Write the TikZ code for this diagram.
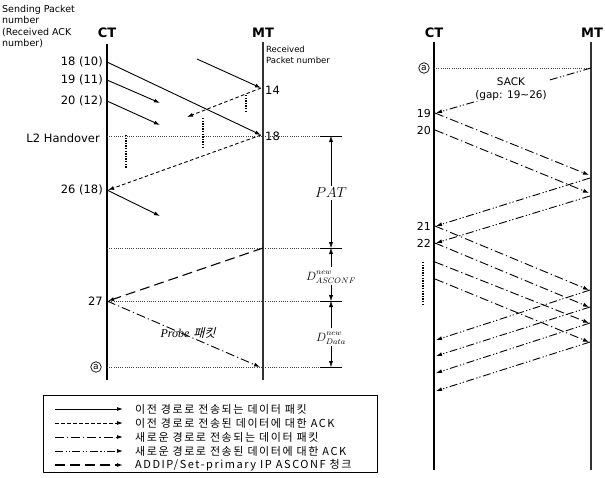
\documentclass[tikz,border=0pt]{standalone}
\usepackage{fontspec}
\setmainfont{DejaVu Sans}
\newfontfamily\korfont[LetterSpace=14]{Noto Sans CJK KR}
\newfontfamily\korslant[FakeSlant=0.25]{Noto Sans CJK KR}
\newfontfamily\probefont{Liberation Serif}
\usetikzlibrary{arrows.meta,calc,positioning}
\tikzset{
  msg/.style={line width=0.9pt,->},
  oldpkt/.style={msg},
  oldack/.style={msg,dash pattern=on 3.5pt off 2.5pt},
  newpkt/.style={msg,dash pattern=on 9pt off 3pt on 1.2pt off 3pt},
  newack/.style={msg,dash pattern=on 8pt off 2.5pt on 1.2pt off 2pt on 1.2pt off 2.5pt},
  asconf/.style={msg,line width=1.1pt,dash pattern=on 10pt off 5pt},
  guide/.style={line width=0.5pt,black!75,dash pattern=on 1pt off 1.2pt},
  halt/.style={line width=2pt,dash pattern=on 1.3pt off 1.3pt},
  life/.style={line width=1.1pt},
  ent/.style={font=\fontsize{13}{15}\selectfont\bfseries},
  seqno/.style={font=\fontsize{11.5}{13}\selectfont,anchor=east,inner sep=1pt},
  rcvno/.style={font=\fontsize{11.5}{13}\selectfont,anchor=west,inner sep=1pt},
  marka/.style={circle,draw,line width=0.7pt,inner sep=0pt,minimum size=10.5pt,font=\fontsize{9}{9}\selectfont},
}
\begin{document}
\begin{tikzpicture}[x=1pt,y=-1pt,>={Latex[length=6pt,width=4pt]},line join=round]
\useasboundingbox (0,0) rectangle (605,477);
% --- left: packets on the old path, L2 handover, ASCONF and probe
\node[anchor=north west,align=left,inner sep=0,font=\fontsize{9.5}{11.5}\selectfont] (sendlbl) at (2,5) {Sending Packet\\number\\(Received ACK\\number)};
\node[anchor=north west,align=left,inner sep=0,font=\fontsize{8.5}{10.5}\selectfont] (recvlbl) at (266,46) {Received\\Packet number};
\node[ent] (ctL) at (107,33) {CT}; \node[ent] (mtL) at (263,33) {MT};
\coordinate (ctLt) at (107,44); \coordinate (ctLb) at (107,380); \coordinate (mtLt) at (263,42); \coordinate (mtLb) at (263,380);
\draw[life] (ctLt) -- (ctLb); \draw[life,black!80] (mtLt) -- (mtLb);
\coordinate (s18) at (107,62); \coordinate (s19) at (107,80); \coordinate (s20) at (107,101); \coordinate (s26) at (107,190); \coordinate (s27) at (107,301);
\coordinate (r14) at (261,88); \coordinate (r18) at (261,135); \coordinate (rA) at (260,367); \coordinate (rC) at (263,248);
\coordinate (p14) at (197,59); \coordinate (e19) at (160,103); \coordinate (e20) at (160,125); \coordinate (e26) at (160,216); \coordinate (k14) at (187,117);
\node[seqno] (n18) at (104,62) {18 (10)}; \node[seqno] (n19) at (104,80) {19 (11)}; \node[seqno] (n20) at (104,101) {20 (12)};
\node[seqno] (nho) at (101,138) {L2 Handover}; \node[seqno] (n26) at (104,190) {26 (18)}; \node[seqno] (n27) at (104,301) {27};
\node[marka] (aL) at (96,367) {a};
\node[rcvno] (m14) at (264,90) {14}; \node[rcvno] (m18) at (264,136) {18};
% guide lines and the delay ticks
\coordinate (t1) at (331,136); \coordinate (t2) at (331,248); \coordinate (t3) at (331,301); \coordinate (t4) at (331,367);
\foreach \t in {t1,t2,t3,t4}{\draw[guide] (ctLt |- \t) -- ([xshift=-10pt]\t); \draw[line width=1pt] ([xshift=-11pt]\t) -- ([xshift=11pt]\t);}
\draw[halt] (246,95) -- (246,113); \draw[halt] (126,135) -- (126,168); \draw[halt] (203,118) -- (203,147);
\draw[oldpkt] (s18) -- (r18); \draw[oldpkt] (s19) -- (e19); \draw[oldpkt] (s20) -- (e20); \draw[oldpkt] (p14) -- (r14); \draw[oldpkt] (s26) -- (e26);
\draw[oldack] (r14) -- (k14); \draw[oldack] (r18) -- ([xshift=1pt]s26);
\draw[asconf] (rC) -- ([xshift=1pt]s27);
\draw[newpkt] (s27) -- (rA);
\node[font=\fontsize{12}{14}\selectfont] (probe) at (188,333) {{\probefont\itshape Probe} {\korslant 패킷}};
\node[font=\Large,inner sep=2pt] (pat) at (331,193) {$PAT$};
\draw[->] (pat.north) -- (t1); \draw[->] (pat.south) -- (t2);
\node[font=\large,inner sep=1pt] (dasc) at (331,276) {$D^{new\mathstrut}_{ASCONF}$};
\draw[->] (dasc.north) -- (t2); \draw[->] (dasc.south) -- (t3);
\node[font=\large,inner sep=1pt] (ddat) at (331,337) {$D^{new\mathstrut}_{Data}$};
\draw[->] (ddat.north) -- (t3); \draw[->] (ddat.south) -- (t4);
% --- right: SACK and retransmission on the new path
\node[ent] (ctR) at (434,33) {CT}; \node[ent] (mtR) at (592,33) {MT};
\coordinate (ctRt) at (434,42); \coordinate (ctRb) at (434,470); \coordinate (mtRt) at (591,42); \coordinate (mtRb) at (591,470);
\draw[life] (ctRt) -- (ctRb); \draw[life,black!80] (mtRt) -- (mtRb);
\node[marka] (aR) at (424,68) {a};
\coordinate (qa) at (434,68); \coordinate (qm) at (591,68); \coordinate (q19) at (436,113);
\draw[guide] (qa) -- (qm);
\draw[newack] (qm) -- (q19);
\node[fill=white,align=center,inner sep=1pt,font=\fontsize{10.5}{12.5}\selectfont] (sack) at (511,89) {SACK\\(gap: 19\textasciitilde 26)};
\node[seqno,font=\fontsize{11}{13}\selectfont] (k19) at (432,113) {19}; \node[seqno,font=\fontsize{11}{13}\selectfont] (k20) at (432,130) {20};
\node[seqno,font=\fontsize{11}{13}\selectfont] (k21) at (432,226) {21}; \node[seqno,font=\fontsize{11}{13}\selectfont] (k22) at (432,243) {22};
\foreach \a/\b in {113/175,130/193,226/290,243/307,262/323,279/342}{
  \coordinate (u\a) at (435,\a); \coordinate (v\a) at (589,\b); \draw[newpkt] (u\a) -- (v\a);}
\foreach \a/\b in {178/226,196/243,290/340,307/356,323/373,342/391}{
  \coordinate (w\a) at (590,\a); \coordinate (z\a) at (436,\b); \draw[newack] (w\a) -- (z\a);}
\draw[halt,line width=1.6pt] (423,262) -- (423,305);
% --- legend
\draw[line width=0.8pt] (43,395) rectangle (377,472);
\foreach \st/\txt [count=\i] in {oldpkt/{이전 경로로 전송되는 데이터 패킷},oldack/{이전 경로로 전송된 데이터에 대한 ACK},newpkt/{새로운 경로로 전송되는 데이터 패킷},newack/{새로운 경로로 전송된 데이터에 대한 ACK},asconf/{ADDIP/Set-primary IP ASCONF 청크}}{
  \coordinate (lg\i) at (55,{395+14*\i}); \coordinate (lh\i) at (123,{395+14*\i});
  \draw[\st] (lg\i) -- (lh\i);
  \node[anchor=west,inner sep=0,font=\fontsize{11}{13}\korfont] (lt\i) at (135,{395+14*\i}) {\txt};}
\end{tikzpicture}
\end{document}
